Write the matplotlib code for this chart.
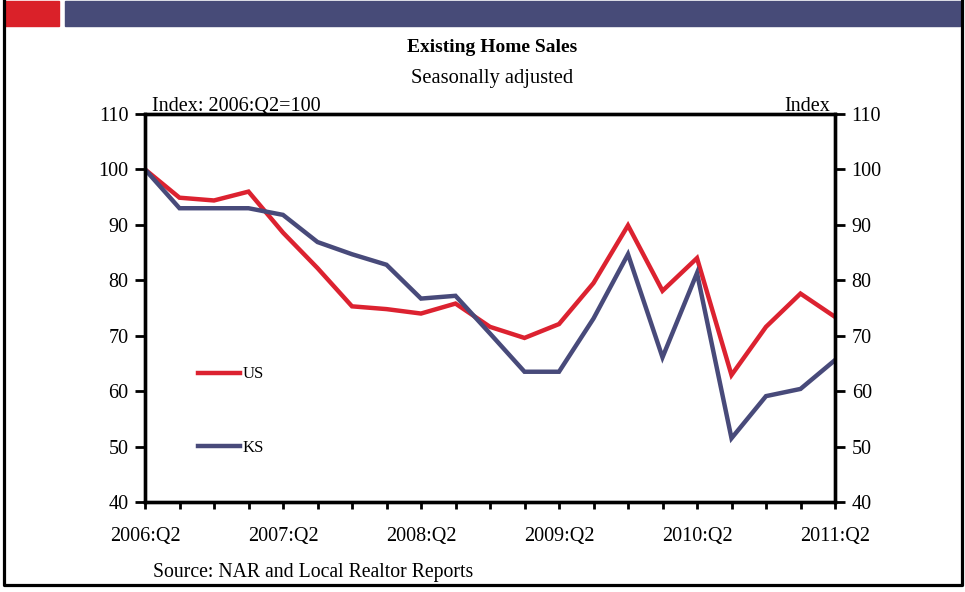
import numpy as np
import matplotlib.pyplot as plt
from matplotlib.patches import Rectangle
from matplotlib.lines import Line2D

plt.rcParams['font.family'] = 'Liberation Serif'

# quarterly index, 2006:Q2 = 100
quarters = ['2006:Q2', '2006:Q3', '2006:Q4', '2007:Q1', '2007:Q2', '2007:Q3', '2007:Q4',
            '2008:Q1', '2008:Q2', '2008:Q3', '2008:Q4', '2009:Q1', '2009:Q2', '2009:Q3',
            '2009:Q4', '2010:Q1', '2010:Q2', '2010:Q3', '2010:Q4', '2011:Q1', '2011:Q2']
us = [100, 94.9, 94.4, 96.0, 88.6, 82.2, 75.3, 74.8, 74.0, 75.8, 71.6,
      69.6, 72.1, 79.5, 89.9, 78.1, 84.0, 62.9, 71.6, 77.6, 73.4]
ks = [100, 93.0, 93.0, 93.0, 91.8, 86.9, 84.7, 82.8, 76.7, 77.2, 70.4,
      63.5, 63.5, 73.1, 84.7, 66.1, 81.3, 51.5, 59.1, 60.4, 65.6]

RED = '#DC2230'
NAVY = '#484A7A'
FS = 14.5

fig = plt.figure(figsize=(9.65, 5.92), dpi=100)
W, H = 965, 592

# header bars and frame
fig.patches.append(Rectangle((5 / W, 1 - 26 / H), 54 / W, 25 / H, transform=fig.transFigure,
                             color='#DA2129', zorder=0))
fig.patches.append(Rectangle((65 / W, 1 - 26 / H), 895 / W, 25 / H, transform=fig.transFigure,
                             color='#474B78', zorder=0))
fig.lines.append(Line2D([4 / W, 4 / W, 961.5 / W, 961.5 / W], [1, 1 - 584.5 / H, 1 - 584.5 / H, 1],
                        transform=fig.transFigure, color='black', lw=2.3))

ax = fig.add_axes([145 / W, 1 - 502 / H, 690 / W, 388 / H])
x = np.arange(len(quarters))
ax.plot(x, us, color=RED, lw=3.2, solid_joinstyle='miter', label='US')
ax.plot(x, ks, color=NAVY, lw=3.2, solid_joinstyle='miter', label='KS')

ax.set_xlim(0, len(quarters) - 1)
ax.set_ylim(40, 110)
ax.set_yticks(range(40, 111, 10))
ax.set_xticks(x)
ax.set_xticklabels([q if i % 4 == 0 else '' for i, q in enumerate(quarters)])
ax.tick_params(axis='x', direction='out', length=5, width=2, pad=13, labelsize=FS)
ax.tick_params(axis='y', direction='out', length=7, width=2, pad=5, labelsize=FS)
for s in ax.spines.values():
    s.set_linewidth(2.4)

ax2 = ax.twinx()
ax2.set_ylim(40, 110)
ax2.set_yticks(range(40, 111, 10))
ax2.tick_params(axis='y', direction='out', length=7, width=2, pad=5, labelsize=FS)
for s in ax2.spines.values():
    s.set_linewidth(2.4)

ax.legend(loc='upper left', bbox_to_anchor=(0.055, 0.388), frameon=False, fontsize=12,
          handlelength=2.5, handletextpad=0.2, labelspacing=3.45)

ax.text(0.01, 0.995, 'Index: 2006:Q2=100', transform=ax.transAxes, ha='left', va='bottom', fontsize=FS)
ax.text(0.993, 0.995, 'Index', transform=ax.transAxes, ha='right', va='bottom', fontsize=FS)

fig.text(492 / W, 1 - 47 / H, 'Existing Home Sales', ha='center', va='center', fontsize=14,
         fontweight='bold')
fig.text(492 / W, 1 - 79 / H, 'Seasonally adjusted', ha='center', va='center', fontsize=14.8)
fig.text(153 / W, 1 - 573 / H, 'Source: NAR and Local Realtor Reports', ha='left', va='center',
         fontsize=14.2)

fig.savefig('out.png', dpi=100)
